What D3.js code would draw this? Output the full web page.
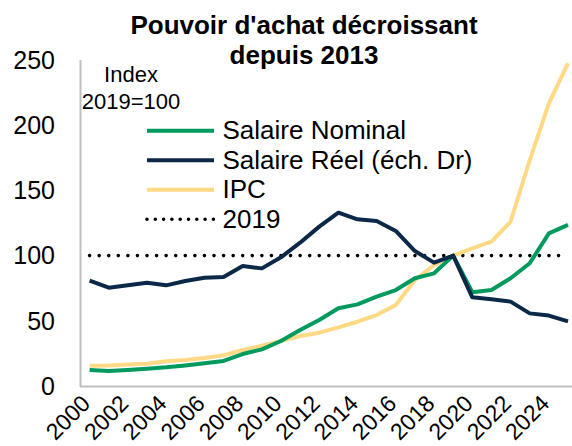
<!DOCTYPE html>
<html><head><meta charset="utf-8">
<script src="https://cdn.jsdelivr.net/npm/d3@7"></script>
<style>
html,body{margin:0;padding:0;background:#fff;}
svg text{font-family:"Liberation Sans",Arial,sans-serif;fill:#000;}
</style></head>
<body><svg id="c" width="572" height="446"></svg>
<script>
const years = d3.range(2000, 2026);
const salaireNominal = [12.3,11.5,12.3,13.3,14.3,15.8,17.4,19.2,24.5,28.1,34.5,42.9,50.6,59.6,62.6,68.5,73.6,82.6,86.4,100,71.9,73.6,82.6,94.1,117.1,123.5];
const salaireReel = [80.8,75.4,77.2,79.2,77.2,80.5,83.0,83.6,92.0,90.2,98.7,109.9,122.2,132.9,127.8,126.5,118.9,103.5,94.6,100,68.0,66.5,64.7,55.7,54.0,49.6];
const ipc = [15.6,15.8,16.4,17.1,18.9,19.9,21.5,23.5,27.6,30.9,34.5,38.3,40.9,45.0,49.3,54.4,62.1,81.3,92.8,100,105.6,110.7,126.0,173.3,216.8,247.5];
const ref2019 = years.map(() => 100);
const yTicks = [0,50,100,150,200,250];
const xTickYears = d3.range(2000, 2025, 2);
const titleLines = ["Pouvoir d'achat décroissant", "depuis 2013"];
const unitLines = ["Index", "2019=100"];
const legendLabels = ["Salaire Nominal", "Salaire Réel (éch. Dr)", "IPC", "2019"];
const colors = {nominal:"#009a5e", reel:"#0b2848", ipc:"#ffd984", ref:"#000"};

const svg = d3.select("#c");
const x = d3.scaleLinear().domain([2000, 2025]).range([89.6, 568]);
const y = d3.scaleLinear().domain([0, 250]).range([386, 60]);

// axes lines
svg.append("line").attr("x1",80.5).attr("x2",80.5).attr("y1",60).attr("y2",387)
  .attr("stroke","#c0c0c0").attr("stroke-width",2);
svg.append("line").attr("x1",80).attr("x2",572).attr("y1",386.5).attr("y2",386.5)
  .attr("stroke","#c0c0c0").attr("stroke-width",2);

// y tick labels
svg.append("g").selectAll("text").data(yTicks).join("text")
  .attr("x",55).attr("y",d=>y(d)).attr("dy","0.35em")
  .attr("text-anchor","end").attr("font-size",25).text(d=>d);

// x tick labels
svg.append("g").selectAll("text").data(xTickYears).join("text")
  .attr("transform",d=>`translate(${x(d)+2},${405}) rotate(-45)`)
  .attr("text-anchor","end").attr("font-size",23).text(d=>d);

const line = d3.line().x((d,i)=>x(years[i])).y(d=>y(d));

// dotted 2019 line
svg.append("path").datum(ref2019).attr("d",line).attr("fill","none")
  .attr("stroke",colors.ref).attr("stroke-width",3.6).attr("stroke-linecap","round")
  .attr("stroke-dasharray","0 9.57");

const series = [
  {v:ipc, c:colors.ipc},
  {v:salaireNominal, c:colors.nominal},
  {v:salaireReel, c:colors.reel}
];
series.forEach(s=>{
  svg.append("path").datum(s.v).attr("d",line).attr("fill","none")
    .attr("stroke",s.c).attr("stroke-width",4).attr("stroke-linejoin","round");
});

// title
svg.append("g").selectAll("text").data(titleLines).join("text")
  .attr("x",304).attr("y",(d,i)=>34+i*30).attr("text-anchor","middle")
  .attr("font-size",26).attr("font-weight","bold").text(d=>d);

// unit
svg.append("g").selectAll("text").data(unitLines).join("text")
  .attr("x",131).attr("y",(d,i)=>82+i*26.5).attr("text-anchor","middle")
  .attr("font-size",22).text(d=>d);

// legend
const legColors = [colors.nominal, colors.reel, colors.ipc, colors.ref];
const lg = svg.append("g");
legendLabels.forEach((lab,i)=>{
  const ly = 130.7 + i*29.5;
  const l = lg.append("line").attr("x1",147).attr("x2",214).attr("y1",ly).attr("y2",ly)
    .attr("stroke",legColors[i]);
  if (i===3) {
    l.attr("stroke-width",3.6).attr("stroke-linecap","round").attr("stroke-dasharray","0 8.3");
  } else {
    l.attr("stroke-width",4);
  }
  lg.append("text").attr("x",222.5).attr("y",ly+8.7).attr("font-size",26).text(lab);
});
</script></body></html>
